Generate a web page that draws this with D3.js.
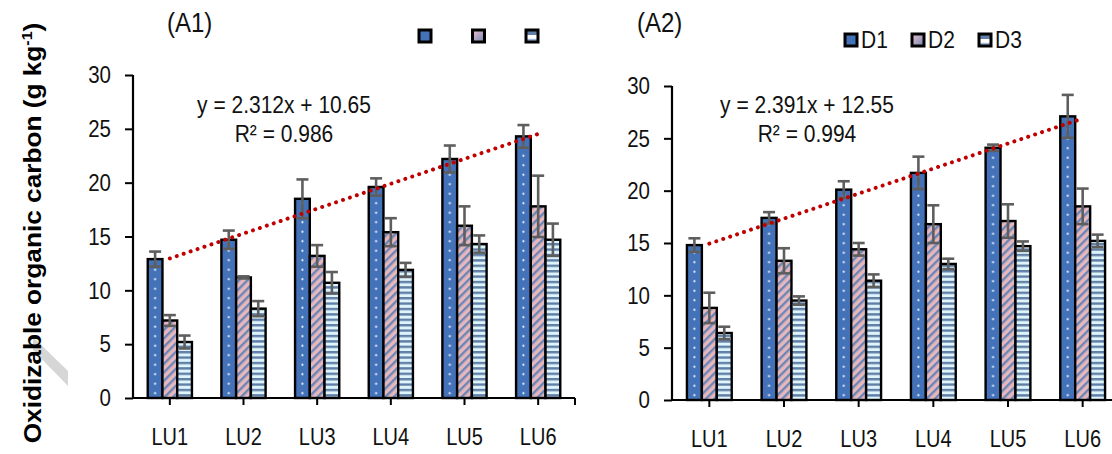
<!DOCTYPE html>
<html><head><meta charset="utf-8">
<script src="https://cdn.jsdelivr.net/npm/d3@7"></script>
<style>
body{margin:0;background:#fff}
svg{display:block;font-family:"Liberation Sans",Arial,sans-serif}
</style>
</head><body>
<svg id="c" width="1112" height="454"></svg>
<script>
// ---------------- data ----------------
const categories = ["LU1","LU2","LU3","LU4","LU5","LU6"];
const seriesNames = ["D1","D2","D3"];
const yTicks = [0,5,10,15,20,25,30];

const a1D1 = [12.9,14.7,18.5,19.6,22.2,24.3];
const a1D2 = [7.2,11.2,13.2,15.4,16.0,17.8];
const a1D3 = [5.2,8.3,10.7,11.9,14.3,14.7];
const a1D1Err = [0.7,0.85,1.8,0.8,1.25,1.05];
const a1D2Err = [0.5,0.1,1.0,1.3,1.8,2.85];
const a1D3Err = [0.6,0.7,1.0,0.65,0.8,1.5];

const a2D1 = [14.8,17.4,20.1,21.7,24.1,27.1];
const a2D2 = [8.8,13.3,14.4,16.8,17.1,18.5];
const a2D3 = [6.4,9.5,11.4,13.0,14.7,15.2];
const a2D1Err = [0.65,0.55,0.8,1.55,0.3,2.05];
const a2D2Err = [1.45,1.2,0.6,1.8,1.6,1.7];
const a2D3Err = [0.6,0.4,0.6,0.5,0.45,0.6];

const a1Slope = 2.312, a1Intercept = 10.65, a1R2 = "0.986";
const a2Slope = 2.391, a2Intercept = 12.55, a2R2 = "0.994";

// ---------------- drawing ----------------
const SY = 1.18; // the source figure's text is slightly stretched vertically
const svg = d3.select("#c");
const defs = svg.append("defs");
const BLUE = "#4472b8", PINK = "#e6b8bd", STRIPE = "#6b86b6", SLATE = "#617ea6", LIGHT = "#dff5fc";

const p2 = defs.append("pattern").attr("id","pD2").attr("patternUnits","userSpaceOnUse")
  .attr("width",6).attr("height",6).attr("patternTransform","rotate(45)");
p2.append("rect").attr("width",6).attr("height",6).attr("fill",PINK);
p2.append("rect").attr("width",2.4).attr("height",6).attr("fill",STRIPE);

const p3 = defs.append("pattern").attr("id","pD3").attr("patternUnits","userSpaceOnUse")
  .attr("width",10).attr("height",5.4);
p3.append("rect").attr("width",10).attr("height",5.4).attr("fill",LIGHT);
p3.append("rect").attr("width",10).attr("height",2.4).attr("fill",SLATE);

const g2 = defs.append("linearGradient").attr("id","gD2").attr("x1",0).attr("y1",0).attr("x2",1).attr("y2",1);
g2.append("stop").attr("offset","0%").attr("stop-color","#f0c0d0");
g2.append("stop").attr("offset","100%").attr("stop-color","#6f86b0");
const g3 = defs.append("linearGradient").attr("id","gD3").attr("x1",0).attr("y1",0).attr("x2",0).attr("y2",1);
[["0%",SLATE],["40%",SLATE],["45%","#ffffff"],["70%","#ffffff"],["75%","#9fb6d6"],["100%","#9fb6d6"]]
  .forEach(s=>g3.append("stop").attr("offset",s[0]).attr("stop-color",s[1]));

// faint grey artefact beside the axis title (drawn behind the title)
svg.append("polygon").attr("points","33,337 68,371 68,386 33,350").attr("fill","#d2d2d2").attr("opacity",0.9);

function stretchedText(parent, x, y, str, size){
  return parent.append("text").attr("transform",`translate(${x},${y}) scale(1,${SY})`)
    .attr("font-size",size).attr("fill","#111").text(str);
}

function panel(cfg){
  const {id,x0,x1,yTop,yBot,vals,errs,slope,intercept} = cfg;
  const g = svg.append("g");
  const x = d3.scaleBand().domain(categories).range([x0,x1]).paddingInner(0.4).paddingOuter(0.2);
  const xs = d3.scaleBand().domain(seriesNames).range([0,x.bandwidth()]);
  const y = d3.scaleLinear().domain([0,30]).range([yBot,yTop]);

  const p1 = defs.append("pattern").attr("id","pD1"+id).attr("patternUnits","userSpaceOnUse")
    .attr("width",x.step()).attr("height",9.5)
    .attr("x",x(categories[0])+xs("D1")).attr("y",yBot);
  p1.append("rect").attr("width",x.step()).attr("height",9.5).attr("fill",BLUE);
  p1.append("circle").attr("cx",xs.bandwidth()/2).attr("cy",4.75).attr("r",1.1).attr("fill","#e8f0ff");

  const fills = {D1:`url(#pD1${id})`, D2:"url(#pD2)", D3:"url(#pD3)"};

  const rows = [];
  seriesNames.forEach((s,si)=>categories.forEach((c,ci)=>rows.push({s,c,v:vals[si][ci],e:errs[si][ci]})));
  const cx = d=>x(d.c)+xs(d.s)+xs.bandwidth()/2;

  g.selectAll("rect.bar").data(rows).join("rect").attr("class","bar")
    .attr("x",d=>x(d.c)+xs(d.s)).attr("width",xs.bandwidth())
    .attr("y",d=>y(d.v)).attr("height",d=>y(0)-y(d.v))
    .attr("fill",d=>fills[d.s]).attr("stroke","#000").attr("stroke-width",2.4);

  const eg = g.selectAll("g.err").data(rows).join("g").attr("class","err")
    .attr("stroke","#5e5e5e").attr("stroke-width",2.6);
  eg.append("line").attr("x1",cx).attr("x2",cx)
    .attr("y1",d=>y(d.v-d.e)).attr("y2",d=>y(d.v+d.e));
  [-1,1].forEach(sg=>{
    eg.append("line").attr("x1",d=>cx(d)-6).attr("x2",d=>cx(d)+6)
      .attr("y1",d=>y(d.v+sg*d.e)).attr("y2",d=>y(d.v+sg*d.e));
  });

  const ya = g.append("g").attr("transform",`translate(${x0},0)`)
    .call(d3.axisLeft(y).tickValues(yTicks).tickSize(8).tickPadding(14));
  ya.select(".domain").attr("stroke","#000").attr("stroke-width",2.2).attr("d",`M0,${yTop}V${yBot}`);
  ya.selectAll(".tick line").attr("stroke","#000").attr("stroke-width",2);
  ya.selectAll("text").attr("font-size",20.5).attr("fill","#111")
    .attr("font-family","Liberation Sans, Arial, sans-serif").attr("transform",`scale(1,${SY})`);

  const xa = g.append("g").attr("transform",`translate(0,${yBot})`)
    .call(d3.axisBottom(x).tickSize(7));
  xa.select(".domain").attr("stroke","#000").attr("stroke-width",2.2).attr("d",`M${x0},0H${x1}`);
  xa.selectAll(".tick line").attr("stroke","#000").attr("stroke-width",2);
  xa.selectAll("text").attr("font-size",20).attr("fill","#111")
    .attr("font-family","Liberation Sans, Arial, sans-serif")
    .attr("y",0).attr("dy",0).attr("transform",`translate(0,47) scale(1,${SY})`);
  xa.append("line").attr("x1",x1).attr("x2",x1).attr("y1",0).attr("y2",7).attr("stroke","#000").attr("stroke-width",2);

  const tl = d3.line().x(d=>x(d)+x.bandwidth()/2).y((d,i)=>y(slope*(i+1)+intercept));
  g.append("path").attr("d",tl(categories)).attr("fill","none").attr("stroke","#c00000")
    .attr("stroke-width",4).attr("stroke-linecap","round").attr("stroke-dasharray","0.01 7.3");
}

panel({id:"a1",x0:133,x1:575,yTop:75,yBot:398,vals:[a1D1,a1D2,a1D3],errs:[a1D1Err,a1D2Err,a1D3Err],slope:a1Slope,intercept:a1Intercept});
panel({id:"a2",x0:672,x1:1120,yTop:86,yBot:400,vals:[a2D1,a2D2,a2D3],errs:[a2D1Err,a2D2Err,a2D3Err],slope:a2Slope,intercept:a2Intercept});

function eq(cx, slope, intercept, r2){
  const t = svg.append("g").attr("text-anchor","middle");
  stretchedText(t, cx, 113, `y = ${slope}x + ${intercept.toFixed(2)}`, 21);
  stretchedText(t, cx, 142, `R² = ${r2}`, 21);
}
eq(284, a1Slope, a1Intercept, a1R2);
eq(807, a2Slope, a2Intercept, a2R2);

stretchedText(svg, 167, 32, "(A1)", 24);
stretchedText(svg, 637, 32, "(A2)", 24);

const swFill = {D1:BLUE, D2:"url(#gD2)", D3:"url(#gD3)"};
function legend(x0, yy, gap, withText){
  const lg = svg.append("g");
  seriesNames.forEach((s,i)=>{
    const gx = x0 + i*gap;
    lg.append("rect").attr("x",gx).attr("y",yy).attr("width",12).attr("height",12)
      .attr("fill",swFill[s]).attr("stroke","#000").attr("stroke-width",3);
    if(withText) stretchedText(lg, gx+16, yy+14, s, 21);
  });
}
legend(419, 30, 53.5, false);
legend(845, 34, 67, true);

svg.append("text").attr("transform","translate(41,233) rotate(-90) scale(1.14,1)").attr("text-anchor","middle")
  .attr("font-size",23).attr("font-weight","bold").attr("fill","#000")
  .call(t=>{
    t.append("tspan").text("Oxidizable organic carbon (g kg");
    t.append("tspan").attr("dy",-9).attr("font-size",14).text("-1");
    t.append("tspan").attr("dy",9).text(")");
  });
</script>
</body></html>
